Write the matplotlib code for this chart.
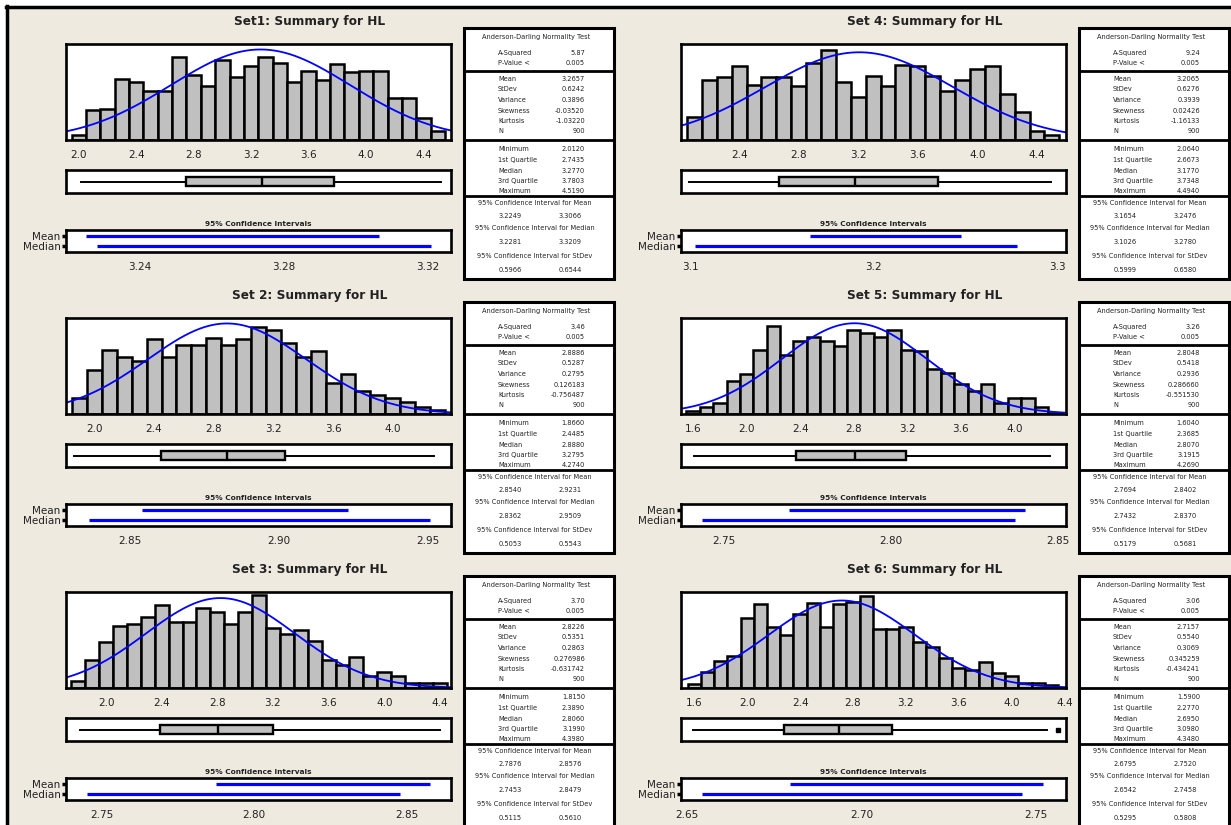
import numpy as np
import matplotlib
matplotlib.use("Agg")
import matplotlib.pyplot as plt
from matplotlib.patches import Rectangle
from matplotlib.lines import Line2D

W, H = 1231, 825
BG = "#EEEAE0"
TXT = "#222222"

# ---------------- data ----------------
titles = ["Set1: Summary for HL", "Set 2: Summary for HL", "Set 3: Summary for HL",
          "Set 4: Summary for HL", "Set 5: Summary for HL", "Set 6: Summary for HL"]
bin_width = 0.1
first_mid = [2.0, 1.9, 1.8, 2.1, 1.6, 1.6]
counts1 = [3, 19, 20, 39, 37, 31, 31, 53, 41, 34, 51, 40, 47, 53, 49, 37, 44, 38, 48, 43, 44, 44, 27, 27, 14, 6]
counts2 = [12, 33, 48, 43, 40, 56, 43, 52, 52, 57, 52, 56, 65, 63, 53, 43, 47, 23, 30, 17, 14, 12, 9, 5, 3]
counts3 = [5, 21, 34, 46, 48, 53, 62, 49, 49, 60, 57, 48, 57, 69, 45, 40, 43, 35, 21, 17, 23, 9, 12, 9, 4, 4, 4]
counts4 = [15, 39, 41, 48, 36, 41, 41, 35, 50, 59, 38, 28, 42, 35, 49, 48, 42, 32, 39, 46, 48, 30, 18, 6, 3]
counts5 = [2, 5, 8, 24, 29, 47, 64, 43, 53, 56, 53, 50, 61, 59, 56, 61, 47, 46, 33, 30, 22, 17, 22, 8, 12, 12, 5, 1]
counts6 = [3, 12, 20, 24, 52, 62, 45, 39, 55, 63, 45, 62, 64, 68, 44, 44, 45, 34, 30, 22, 15, 13, 19, 11, 9, 4, 4, 2]
counts = [counts1, counts2, counts3, counts4, counts5, counts6]

hist_xlim = [(1.911, 4.592), (1.81, 4.39), (1.712, 4.48), (2.01, 4.595), (1.51, 4.385), (1.50, 4.41)]
hist_ymax = [61, 72, 71.6, 62.6, 70.1, 71.1]
hist_ticks = [[2.0, 2.4, 2.8, 3.2, 3.6, 4.0, 4.4],
              [2.0, 2.4, 2.8, 3.2, 3.6, 4.0],
              [2.0, 2.4, 2.8, 3.2, 3.6, 4.0, 4.4],
              [2.4, 2.8, 3.2, 3.6, 4.0, 4.4],
              [1.6, 2.0, 2.4, 2.8, 3.2, 3.6, 4.0],
              [1.6, 2.0, 2.4, 2.8, 3.2, 3.6, 4.0, 4.4]]

a_squared = ["5.87", "3.46", "3.70", "9.24", "3.26", "3.06"]
p_value = ["0.005", "0.005", "0.005", "0.005", "0.005", "0.005"]
mean = [3.2657, 2.8886, 2.8226, 3.2065, 2.8048, 2.7157]
stdev = [0.6242, 0.5287, 0.5351, 0.6276, 0.5418, 0.5540]
variance = ["0.3896", "0.2795", "0.2863", "0.3939", "0.2936", "0.3069"]
skewness = ["-0.03520", "0.126183", "0.276986", "0.02426", "0.286660", "0.345259"]
kurtosis = ["-1.03220", "-0.756487", "-0.631742", "-1.16133", "-0.551530", "-0.434241"]
n_obs = [900, 900, 900, 900, 900, 900]
minimum = [2.0120, 1.8660, 1.8150, 2.0640, 1.6040, 1.5900]
q1 = [2.7435, 2.4485, 2.3890, 2.6673, 2.3685, 2.2770]
median = [3.2770, 2.8880, 2.8060, 3.1770, 2.8070, 2.6950]
q3 = [3.7803, 3.2795, 3.1990, 3.7348, 3.1915, 3.0980]
maximum = [4.5190, 4.2740, 4.3980, 4.4940, 4.2690, 4.3480]
whisker_hi = [4.5190, 4.2740, 4.3980, 4.4940, 4.2690, 4.27]
outliers = [[], [], [], [], [], [4.3480]]

ci_mean = [(3.2249, 3.3066), (2.8540, 2.9231), (2.7876, 2.8576),
           (3.1654, 3.2476), (2.7694, 2.8402), (2.6795, 2.7520)]
ci_median = [(3.2281, 3.3209), (2.8362, 2.9509), (2.7453, 2.8479),
             (3.1026, 3.2780), (2.7432, 2.8370), (2.6542, 2.7458)]
ci_stdev = [(0.5966, 0.6544), (0.5053, 0.5543), (0.5115, 0.5610),
            (0.5999, 0.6580), (0.5179, 0.5681), (0.5295, 0.5808)]
ci_xlim = [(3.2194, 3.3265), (2.8285, 2.9578), (2.7383, 2.8645),
           (3.095, 3.3045), (2.737, 2.8524), (2.6483, 2.7585)]
ci_ticks = [[3.24, 3.28, 3.32], [2.85, 2.90, 2.95], [2.75, 2.80, 2.85],
            [3.1, 3.2, 3.3], [2.75, 2.80, 2.85], [2.65, 2.70, 2.75]]
ci_ticklabels = [["3.24", "3.28", "3.32"], ["2.85", "2.90", "2.95"], ["2.75", "2.80", "2.85"],
                 ["3.1", "3.2", "3.3"], ["2.75", "2.80", "2.85"], ["2.65", "2.70", "2.75"]]
ci_rows = ["Mean", "Median"]

# ---------------- figure ----------------
fig = plt.figure(figsize=(W / 100, H / 100), dpi=100, facecolor="white")
fig.patches.append(Rectangle((6 / W, 0), 1, 1 - 6 / H, transform=fig.transFigure,
                             facecolor=BG, edgecolor="none", zorder=-10))
fig.lines.append(Line2D([6 / W, 1], [1 - 6.5 / H, 1 - 6.5 / H], transform=fig.transFigure,
                        color="black", lw=2.5))
fig.lines.append(Line2D([6.5 / W, 6.5 / W], [0, 1 - 6 / H], transform=fig.transFigure,
                        color="black", lw=2.5))


def px_axes(x0, y0, x1, y1):
    return fig.add_axes([x0 / W, 1 - y1 / H, (x1 - x0) / W, (y1 - y0) / H])


def frame(ax, lw=1.9):
    for s in ax.spines.values():
        s.set_linewidth(lw)
        s.set_color("black")


def fmt4(v):
    return f"{v:.4f}"


for i in range(6):
    cx = 615 * (i // 3)
    ry = 274 * (i % 3)

    # title
    fig.text((310 + cx) / W, 1 - (22 + ry) / H, titles[i], ha="center", va="center",
             fontsize=8.7, fontweight="bold", color=TXT)

    # histogram
    ax = px_axes(66 + cx, 44 + ry, 451 + cx, 140 + ry)
    ax.set_facecolor("white")
    mids = first_mid[i] + bin_width * np.arange(len(counts[i]))
    ax.bar(mids, counts[i], width=bin_width, color="#C0C0C0", edgecolor="black", linewidth=1.8)
    xs = np.linspace(hist_xlim[i][0], hist_xlim[i][1], 400)
    ys = n_obs[i] * bin_width * np.exp(-0.5 * ((xs - mean[i]) / stdev[i]) ** 2) / (stdev[i] * np.sqrt(2 * np.pi))
    ax.plot(xs, ys, color="#0000FF", lw=1.3)
    ax.set_xlim(hist_xlim[i])
    ax.set_ylim(0, hist_ymax[i])
    ax.set_yticks([])
    ax.set_xticks(hist_ticks[i])
    ax.set_xticklabels([f"{t:.1f}" for t in hist_ticks[i]])
    ax.tick_params(axis="x", length=0, pad=7, labelsize=7.5, labelcolor=TXT)
    frame(ax)

    # box plot
    bx = px_axes(66 + cx, 170 + ry, 451 + cx, 193 + ry)
    bx.set_facecolor("white")
    stats = [dict(med=median[i], q1=q1[i], q3=q3[i], whislo=minimum[i], whishi=whisker_hi[i],
                  fliers=outliers[i])]
    bx.bxp(stats, positions=[0.5], widths=0.38, vert=False, showcaps=False, patch_artist=True,
           boxprops=dict(facecolor="#C0C0C0", edgecolor="black", linewidth=1.7),
           medianprops=dict(color="black", linewidth=1.7),
           whiskerprops=dict(color="black", linewidth=1.4),
           flierprops=dict(marker="s", markersize=2.2, markerfacecolor="black",
                           markeredgecolor="black"))
    bx.set_xlim(hist_xlim[i])
    bx.set_ylim(0, 1)
    bx.set_xticks([])
    bx.set_yticks([])
    frame(bx)

    # CI label
    fig.text((258 + cx) / W, 1 - (224 + ry) / H, "95% Confidence Intervals", ha="center",
             va="center", fontsize=5.3, fontweight="bold", color=TXT)

    # CI plot
    cax = px_axes(66 + cx, 230 + ry, 451 + cx, 252 + ry)
    cax.set_facecolor("white")
    cax.hlines([1, 0], [ci_mean[i][0], ci_median[i][0]], [ci_mean[i][1], ci_median[i][1]],
               colors="#0000FF", lw=2.3)
    cax.set_xlim(ci_xlim[i])
    cax.set_ylim(-0.6, 1.6)
    cax.set_yticks([1, 0])
    cax.set_yticklabels(ci_rows)
    cax.set_xticks(ci_ticks[i])
    cax.set_xticklabels(ci_ticklabels[i])
    cax.tick_params(axis="x", length=0, pad=7, labelsize=7.5, labelcolor=TXT)
    cax.tick_params(axis="y", length=3, width=2.5, pad=1, labelsize=7.5, labelcolor=TXT)
    frame(cax)

    # stats table
    tx0, ty0 = 464 + cx, 28 + ry
    tax = px_axes(tx0, ty0, tx0 + 150, ty0 + 251)
    tax.set_xlim(0, 150)
    tax.set_ylim(251, 0)
    tax.axis("off")
    tax.add_patch(Rectangle((0, 0), 150, 251, facecolor="white", edgecolor="black", lw=2.2,
                            clip_on=False))
    for yy in (43, 112, 168):
        tax.plot([0, 150], [yy, yy], color="black", lw=2.0, solid_capstyle="butt")
    fs = 4.8
    tkw = dict(fontsize=fs, color=TXT, va="center", family="DejaVu Sans")
    tax.text(72, 9, "Anderson-Darling Normality Test", ha="center", **tkw)
    rows = [("A-Squared", a_squared[i], 25), ("P-Value <", p_value[i], 35),
            ("Mean", fmt4(mean[i]), 51), ("StDev", fmt4(stdev[i]), 61),
            ("Variance", variance[i], 72), ("Skewness", skewness[i], 83),
            ("Kurtosis", kurtosis[i], 93), ("N", str(n_obs[i]), 103),
            ("Minimum", fmt4(minimum[i]), 121), ("1st Quartile", fmt4(q1[i]), 132),
            ("Median", fmt4(median[i]), 143), ("3rd Quartile", fmt4(q3[i]), 153),
            ("Maximum", fmt4(maximum[i]), 163)]
    for lab, val, yy in rows:
        tax.text(34, yy, lab, ha="left", **tkw)
        tax.text(121, yy, val, ha="right", **tkw)
    ci_blocks = [("95% Confidence Interval for Mean", ci_mean[i], 175, 188),
                 ("95% Confidence Interval for Median", ci_median[i], 200, 214),
                 ("95% Confidence Interval for StDev", ci_stdev[i], 228, 242)]
    for hdr, (lo, hi), yh, yv in ci_blocks:
        tax.text(71, yh, hdr, ha="center", **tkw)
        tax.text(46, yv, fmt4(lo), ha="center", **tkw)
        tax.text(106, yv, fmt4(hi), ha="center", **tkw)

fig.savefig("out.png", dpi=100, facecolor="white")
